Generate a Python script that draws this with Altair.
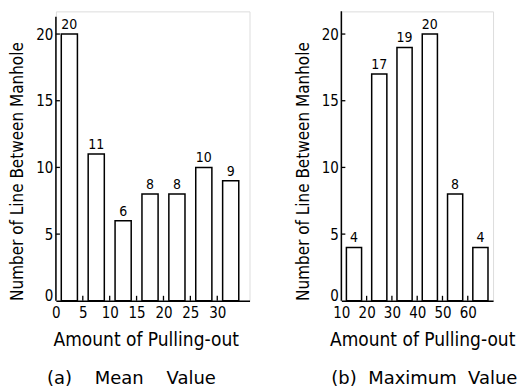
import altair as alt
import pandas as pd

# ---- data ----
# (a) Mean value
a_bin_start = [0, 5, 10, 15, 20, 25, 30]
a_bin_end = [5, 10, 15, 20, 25, 30, 35]
a_counts = [20, 11, 6, 8, 8, 10, 9]
a_xticks = [0, 5, 10, 15, 20, 25, 30]
a_inner_ticks = [5, 10, 15, 20, 25, 30]

# (b) Maximum value
b_bin_start = [10, 20, 30, 40, 50, 60]
b_bin_end = [20, 30, 40, 50, 60, 70]
b_counts = [4, 17, 19, 20, 8, 4]
b_xticks = [10, 20, 30, 40, 50, 60]
b_inner_ticks = [20, 30, 40, 50, 60]

y_ticks = [0, 5, 10, 15, 20]
y_inner_ticks = [5, 10, 15, 20]

FONT = "DejaVu Sans Condensed"
TFONT = "DejaVu Sans"
H = 290
Y_MAX = 21.7
NB = "\u00a0"


def panel(starts, ends, counts, xticks, inner, xdomain, width, inset,
          axis_top, title, title_dx, xtitle_x):
    df = pd.DataFrame({"start": starts, "end": ends, "count": counts})
    xs = alt.Scale(domain=xdomain, nice=False, zero=False)
    ys = alt.Scale(domain=[0, Y_MAX], nice=False)

    xaxis = alt.Axis(values=xticks, title="Amount of Pulling-out",
                     ticks=False, domainColor="black", domainWidth=1.5,
                     labelFontSize=15, labelPadding=5, labelFont=FONT,
                     labelColor="black", labelOverlap=False, labelFlush=False,
                     titleFont=FONT, titleFontSize=19,
                     titleFontWeight="normal", titleColor="black",
                     titlePadding=10, titleX=xtitle_x, grid=False)
    yaxis = alt.Axis(values=y_ticks, title="Number of Line Between Manhole",
                     ticks=False, domain=False, labelFontSize=15,
                     labelPadding=3, labelFont=FONT, labelColor="black",
                     labelOverlap=False, labelFlush=False,
                     labelOffset={"condition": {"test": "datum.value === 0",
                                                "value": -5},
                                  "value": 0},
                     titleFont=FONT, titleFontSize=17,
                     titleFontWeight="normal", titleColor="black",
                     titlePadding=9, titleY=160, grid=False)

    base = alt.Chart(df).transform_calculate(
        x0=f"datum.start + {inset}",
        x1=f"datum.end - {inset}",
        xc="(datum.start + datum.end) / 2",
    )
    bars = base.mark_bar(fill="white", stroke="black", strokeWidth=1.5).encode(
        x=alt.X("x0:Q", scale=xs, axis=xaxis),
        x2="x1:Q",
        y=alt.Y("count:Q", scale=ys, axis=yaxis),
        y2=alt.datum(0),
    )
    labels = base.mark_text(font=FONT, fontSize=14, baseline="alphabetic",
                            dy=-5, color="black").encode(
        x=alt.X("xc:Q", scale=xs, axis=xaxis),
        y=alt.Y("count:Q", scale=ys, axis=yaxis),
        text="count:Q")

    yaxis_line = alt.Chart(pd.DataFrame({"a": [0]})).mark_rule(
        color="black", strokeWidth=1.5).encode(
        x=alt.value(0), y=alt.datum(0, scale=ys, axis=yaxis), y2=alt.datum(axis_top))

    yt = alt.Chart(pd.DataFrame({"t": y_inner_ticks})).mark_rule(
        color="black", strokeWidth=1.3).encode(
        y=alt.Y("t:Q", scale=ys, axis=yaxis), x=alt.value(0), x2=alt.value(4))
    xt = alt.Chart(pd.DataFrame({"t": inner})).mark_rule(
        color="black", strokeWidth=1.3).encode(
        x=alt.X("t:Q", scale=xs, axis=xaxis), y=alt.value(H), y2=alt.value(H - 5))

    return alt.layer(bars, labels, yaxis_line, yt, xt).properties(
        width=width, height=H,
        title=alt.TitleParams(title, orient="bottom", anchor="start", frame="group",
                              dx=title_dx, font=TFONT, fontSize=18,
                              fontWeight="normal", color="black", offset=20),
    )


left = panel(a_bin_start, a_bin_end, a_counts, a_xticks, a_inner_ticks,
             [0, 36], 194, 1.0, 21.3,
             "(a)" + NB * 4 + "Mean" + NB * 4 + "Value", -9, 90)
right = panel(b_bin_start, b_bin_end, b_counts, b_xticks, b_inner_ticks,
              [10, 70], 152, 2.0, Y_MAX,
              "(b)" + NB * 2 + "Maximum" + NB * 2 + "Value", -10, 81)

chart = alt.hconcat(left, right, spacing=43).properties(
    padding={"left": 0, "top": 1, "right": 0, "bottom": 0}
).configure_view(strokeWidth=0).configure(background="white")

chart.save("out.html", embed_options={"renderer": "svg", "actions": False})
